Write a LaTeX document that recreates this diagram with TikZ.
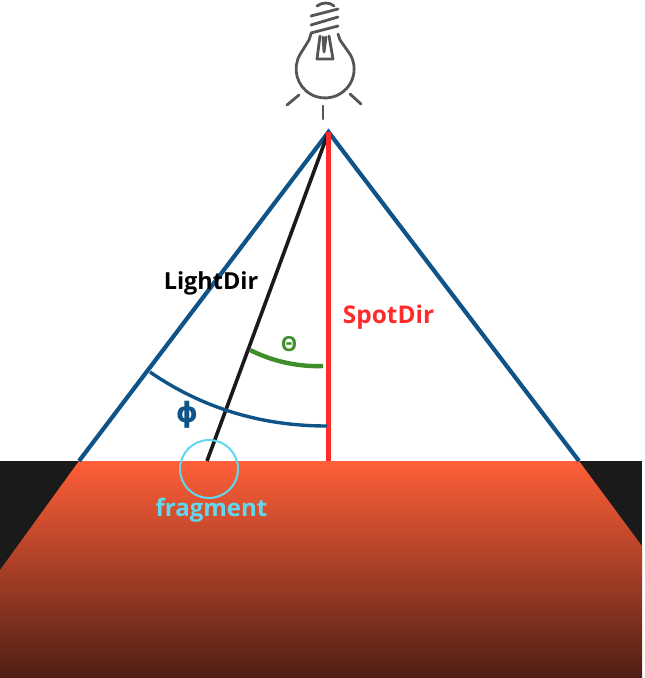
\documentclass[tikz,border=0pt]{standalone}
\usepackage{fontspec}
\setmainfont{Open Sans}
\newfontfamily\symfont{DejaVu Sans}
\definecolor{beam}{HTML}{0F5488}
\definecolor{spot}{HTML}{FF2B2B}
\definecolor{lightd}{HTML}{1A1A1A}
\definecolor{greenarc}{HTML}{3E8E2A}
\definecolor{cyanf}{HTML}{5FD8F0}
\definecolor{bulb}{HTML}{555555}
\definecolor{floortop}{HTML}{FF5F38}
\definecolor{floorbot}{HTML}{4F1E14}
\tikzset{
  beamline/.style={draw=beam,line width=4.2pt*0.75},
  bulbline/.style={draw=bulb,line width=2.8pt*0.75,line cap=round,line join=round},
  label/.style={inner sep=0pt},
}
\begin{document}
\begin{tikzpicture}[x=0.75pt,y=-0.75pt]
\useasboundingbox (0,0) rectangle (645,678);
\coordinate (apex) at (328.5,132);
\coordinate (fl) at (79,461);
\coordinate (fr) at (579,461);
\coordinate (sb) at (328.2,461);
\coordinate (sa) at (328.2,132);
\coordinate (lb) at (207,461);
% floor
\fill[lightd] (0,461) rectangle (642,570);
\shade[top color=floortop,bottom color=floorbot] (fl) -- (fr) -- (642,546) -- (642,678) -- (0,678) -- (0,570) -- cycle;
% rays
\draw[beamline] (fl) -- (apex) -- (fr);
\draw[draw=lightd,line width=3.6pt*0.75] (apex) -- (lb);
\draw[draw=spot,line width=4.8pt*0.75] (sa) -- (sb);
% arcs
\draw[draw=beam,line width=3.4pt*0.75] (150,372) .. controls (205,410) and (265,426) .. (327,426);
\draw[draw=greenarc,line width=4.4pt*0.75] (250,350) .. controls (272,361) and (297,367) .. (323,366);
% fragment
\node[circle,draw=cyanf,line width=2pt*0.75,minimum size=58*0.75pt,inner sep=0pt] (frag) at (209,469) {};
% labels
\node[label,text=black,font=\bfseries\fontsize{17.6}{18}\selectfont] (ld) at (211,283) {LightDir};
\node[label,text=spot,font=\bfseries\fontsize{18.3}{18}\selectfont] (sd) at (388.5,317.5) {SpotDir};
\node[label,text=cyanf,font=\bfseries\fontsize{18}{18}\selectfont] (fg) at (211.5,510) {fragment};
\node[label,text=greenarc,font=\bfseries\fontsize{15.5}{14}\selectfont] (th) at (289,344.5) {Θ};
\node[label,text=beam,font=\symfont\bfseries\fontsize{21}{21}\selectfont] (ph) at (187,415) {ɸ};
% bulb
\begin{scope}[bulbline]
\draw (311,34) -- (309,40) -- (300,54.5)
  arc[start angle=210,end angle=-30,radius=29] -- (340,40) -- (338,34);
\draw (311,16) -- (338,9);
\draw (311,25) -- (338,17);
\draw (311,33) -- (338,26);
\draw (317,6) .. controls (322,2) and (330,2) .. (334,6);
\draw (320,36) -- (317,59) -- (333,59) -- (329,36);
\draw (323,37) -- (324,52) -- (326,37);
\draw (287,105) -- (299,95);
\draw (323,106) -- (323,119);
\draw (350,94) -- (361,104);
\end{scope}
\end{tikzpicture}
\end{document}
